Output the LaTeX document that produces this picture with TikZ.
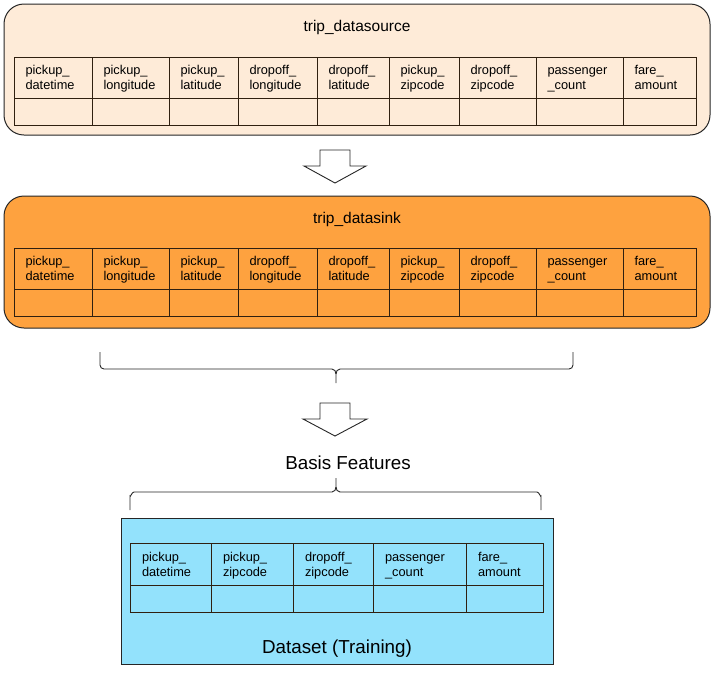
\documentclass[tikz,border=0pt]{standalone}
\usepackage{fontspec}
\setmainfont{Liberation Sans}
\begin{document}
\begin{tikzpicture}[x=1pt,y=-1pt,
  frame/.style={draw=black!85, line width=1pt},
  grid/.style={draw=black!75!brown, line width=0.8pt},
  hcell/.style={grid, rectangle, inner sep=0pt, align=left, anchor=center,
    font=\fontsize{12.8}{15}\selectfont},
  ecell/.style={grid, rectangle, inner sep=0pt},
  title/.style={font=\fontsize{15.5}{18}\selectfont, inner sep=0pt},
  bigtitle/.style={font=\fontsize{18.8}{22}\selectfont, inner sep=0pt},
  blockarrow/.style={draw=black!85, fill=white, line width=0.9pt, line join=miter},
  bracket/.style={draw=black!85, line width=0.9pt}
]
\definecolor{peach}{HTML}{FEEBD8}
\definecolor{tangerine}{HTML}{FEA23F}
\definecolor{skyfill}{HTML}{93E2FC}
\newcommand\celltext[2]{\rule{0pt}{13.5pt}#1\\\strut#2}
\useasboundingbox (0,0) rectangle (718,673);

% ---- source table container ----
\node[frame, fill=peach, rounded corners=20pt, minimum width=706pt, minimum height=131pt,
      inner sep=0pt] (srcbox) at (357,69.5) {};
\node[title] (srctitle) at (357,27.5) {trip\_datasource};

% ---- sink table container ----
\node[frame, fill=tangerine, rounded corners=20pt, minimum width=706pt, minimum height=132pt,
      inner sep=0pt] (sinkbox) at (357,262) {};
\node[title] (sinktitle) at (357,219.5) {trip\_datasink};

% ---- full column set, drawn in both containers ----
\foreach \pre/\top in {src/57, sink/248} {
  \foreach \l/\r/\a/\b [count=\i] in {
      14/92/pickup\_/datetime,
      92/169/pickup\_/longitude,
      169/238/pickup\_/latitude,
      238/317/dropoff\_/longitude,
      317/389/dropoff\_/latitude,
      389/459/pickup\_/zipcode,
      459/536/dropoff\_/zipcode,
      536/623/passenger/\_count,
      623/696/fare\_/amount} {
    \node[hcell, minimum width={(\r-\l)*1pt}, minimum height=41pt,
          text width={(\r-\l-23)*1pt}] (\pre-h\i) at ({(\l+\r)/2},{\top+20.5})
          {\celltext{\a}{\b}};
    \node[ecell, minimum width={(\r-\l)*1pt}, minimum height=27pt]
          (\pre-v\i) at ({(\l+\r)/2},{\top+54.5}) {};
  }
}

% ---- arrow from source to sink ----
\draw[blockarrow] (320,150) -- (350,150) -- (350,166) -- (366,166) -- (335,183)
  -- (304,166) -- (320,166) -- cycle;

% ---- bracket under the sink table ----
\coordinate (b1tip) at (336,383);
\draw[bracket] (100,352) -- (100,365) to[out=-90,in=180] (104,369) -- (332,369)
  to[out=0,in=90] (b1tip |- 0,374) -- (b1tip);
\draw[bracket] (573,352) -- (573,365) to[out=-90,in=0] (569,369) -- (340,369)
  to[out=180,in=90] (b1tip |- 0,374);

% ---- arrow to the selected features ----
\draw[blockarrow] (320,403) -- (350,403) -- (350,419) -- (367,419) -- (335,436)
  -- (303,419) -- (320,419) -- cycle;

\node[bigtitle] (basis) at (348,463) {Basis Features};

% ---- bracket over the training table ----
\coordinate (b2tip) at (336,478);
\draw[bracket] (b2tip) -- (336,487) to[out=-90,in=0] (332,492) -- (134,492)
  to[out=180,in=-90] (130,496) -- (130,510);
\draw[bracket] (336,487) to[out=-90,in=180] (340,492) -- (537,492)
  to[out=0,in=-90] (541,496) -- (541,510);

% ---- training dataset ----
\node[frame, fill=skyfill, minimum width=432pt, minimum height=146pt, inner sep=0pt]
  (trainbox) at (337,591) {};
\foreach \l/\r/\a/\b [count=\i] in {
    130/211/pickup\_/datetime,
    211/293/pickup\_/zipcode,
    293/373/dropoff\_/zipcode,
    373/466/passenger/\_count,
    466/543/fare\_/amount} {
  \node[hcell, minimum width={(\r-\l)*1pt}, minimum height=42pt,
        text width={(\r-\l-24)*1pt}] (train-h\i) at ({(\l+\r)/2},564)
        {\celltext{\a}{\b}};
  \node[ecell, minimum width={(\r-\l)*1pt}, minimum height=27pt]
        (train-v\i) at ({(\l+\r)/2},598.5) {};
}
\node[bigtitle] (traintitle) at (337,649) {Dataset (Training)};
\end{tikzpicture}
\end{document}
